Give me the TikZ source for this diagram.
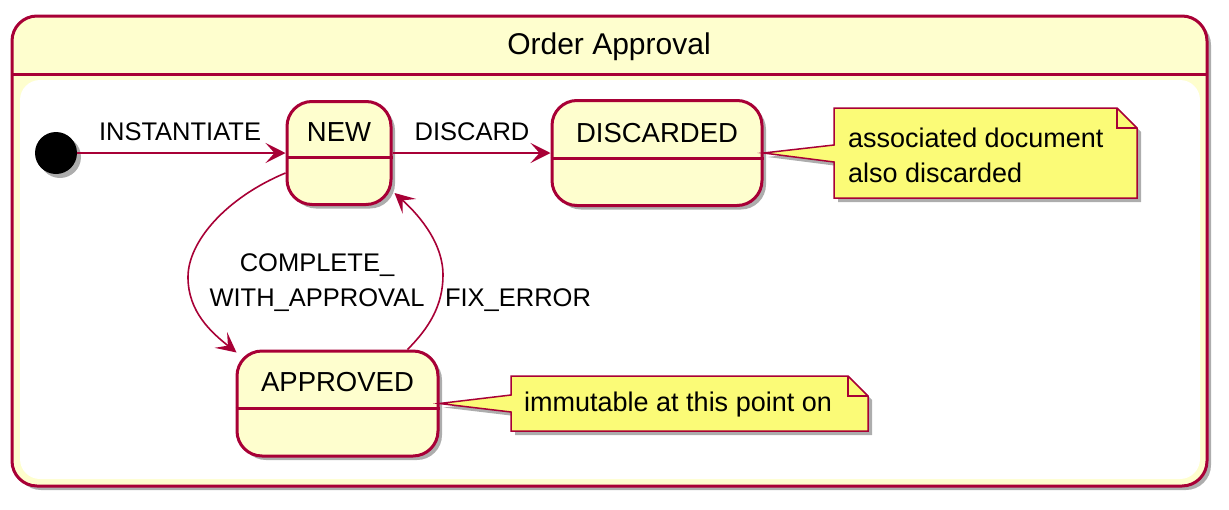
\documentclass[tikz,border=0pt]{standalone}
\usepackage{fontspec}
\setmainfont{Liberation Sans}
\usetikzlibrary{arrows.meta,shadows,calc}
\definecolor{bord}{HTML}{A80036}
\definecolor{sfill}{HTML}{FEFECE}
\definecolor{nfill}{HTML}{FBFB77}
\tikzset{
 shad/.style={drop shadow={shadow xshift=4pt,shadow yshift=-4pt,fill=black,opacity=0.32}},
 statebox/.style={draw=bord,fill=sfill,line width=3pt,rounded corners=25pt,inner sep=0pt,shad},
 stname/.style={font=\fontsize{27.5}{30}\selectfont,inner sep=0pt},
 lbl/.style={font=\fontsize{25.5}{35}\selectfont,inner sep=0pt,align=center},
 notebody/.style={draw=bord,fill=nfill,line width=1.5pt,shad},
 notetxt/.style={font=\fontsize{27}{35}\selectfont,inner sep=0pt,align=left,anchor=west},
 arr/.style={draw=bord,line width=1.6pt,-{Stealth[length=20pt,width=20pt,inset=9pt]}},
 sep/.style={draw=bord,line width=3pt},
}
\begin{document}
\begin{tikzpicture}[x=1pt,y=-1pt]
\useasboundingbox (0,0) rectangle (1229,509);
\fill[white] (0,0) rectangle (1229,509);
% composite frame
\draw[draw=bord,fill=sfill,line width=3pt,rounded corners=25pt,shad] (12,16) rectangle (1207,486);
\draw[sep] (12,74) -- (1207,74);
\fill[white,rounded corners=20pt] (20,80) rectangle (1200,479);
\node[font=\fontsize{30}{32}\selectfont,inner sep=0pt] (title) at (609,47) {Order Approval};
% initial state
\node[circle,fill=black,minimum size=42pt,inner sep=0pt,shad] (init) at (56,153) {};
% states
\node[statebox,minimum width=104pt,minimum height=103pt] (new) at (339,153) {};
\draw[sep] ($(new.west)+(0,4)$) -- ($(new.east)+(0,4)$);
\node[stname] (newl) at (339,132) {NEW};
\node[statebox,minimum width=210pt,minimum height=105pt] (disc) at (657,153) {};
\draw[sep] ($(disc.west)+(0,5)$) -- ($(disc.east)+(0,5)$);
\node[stname] (discl) at (657,133) {DISCARDED};
\node[statebox,minimum width=201pt,minimum height=105pt] (appr) at (337.5,403.5) {};
\draw[sep] ($(appr.west)+(0,4.5)$) -- ($(appr.east)+(0,4.5)$);
\node[stname] (apprl) at (337.5,382) {APPROVED};
% notes
\path[notebody] (834,108) -- (1117,108) -- (1137,128) -- (1137,198) -- (834,198) -- (834,162) -- (disc.east) -- (834,145) -- cycle;
\draw[bord,line width=1.5pt] (1117,108) -- (1117,128) -- (1137,128);
\node[notetxt] (n1) at (848,155) {associated document\\also discarded};
\path[notebody] (511,376) -- (848,376) -- (868,396) -- (868,431) -- (511,431) -- (511,412) -- (appr.east) -- (511,395) -- cycle;
\draw[bord,line width=1.5pt] (848,376) -- (848,396) -- (868,396);
\node[notetxt] (n2) at (524,405) {immutable at this point on};
% transitions
\draw[arr] (init) -- (new.west);
\node[lbl] (linst) at (180,132) {INSTANTIATE};
\draw[arr] (new.east) -- (disc.west);
\node[lbl] (ldisc) at (472,132) {DISCARD};
\draw[arr] ($(new.west)+(0,20)$) .. controls +(-60,25) and +(0,-35) .. (188,277) .. controls +(0,35) and +(-25,-20) .. ($(appr.north west)+(1,3)$);
\node[lbl] (lcomp) at (317,283) {COMPLETE\_\\WITH\_APPROVAL};
\draw[arr] ($(appr.north)+(70,0)$) .. controls +(22,-22) and +(0,30) .. (443,275) .. controls +(0,-35) and +(20,18) .. ($(new.south east)+(2,-13)$);
\node[lbl] (lfix) at (518,300) {FIX\_ERROR};
\end{tikzpicture}
\end{document}
